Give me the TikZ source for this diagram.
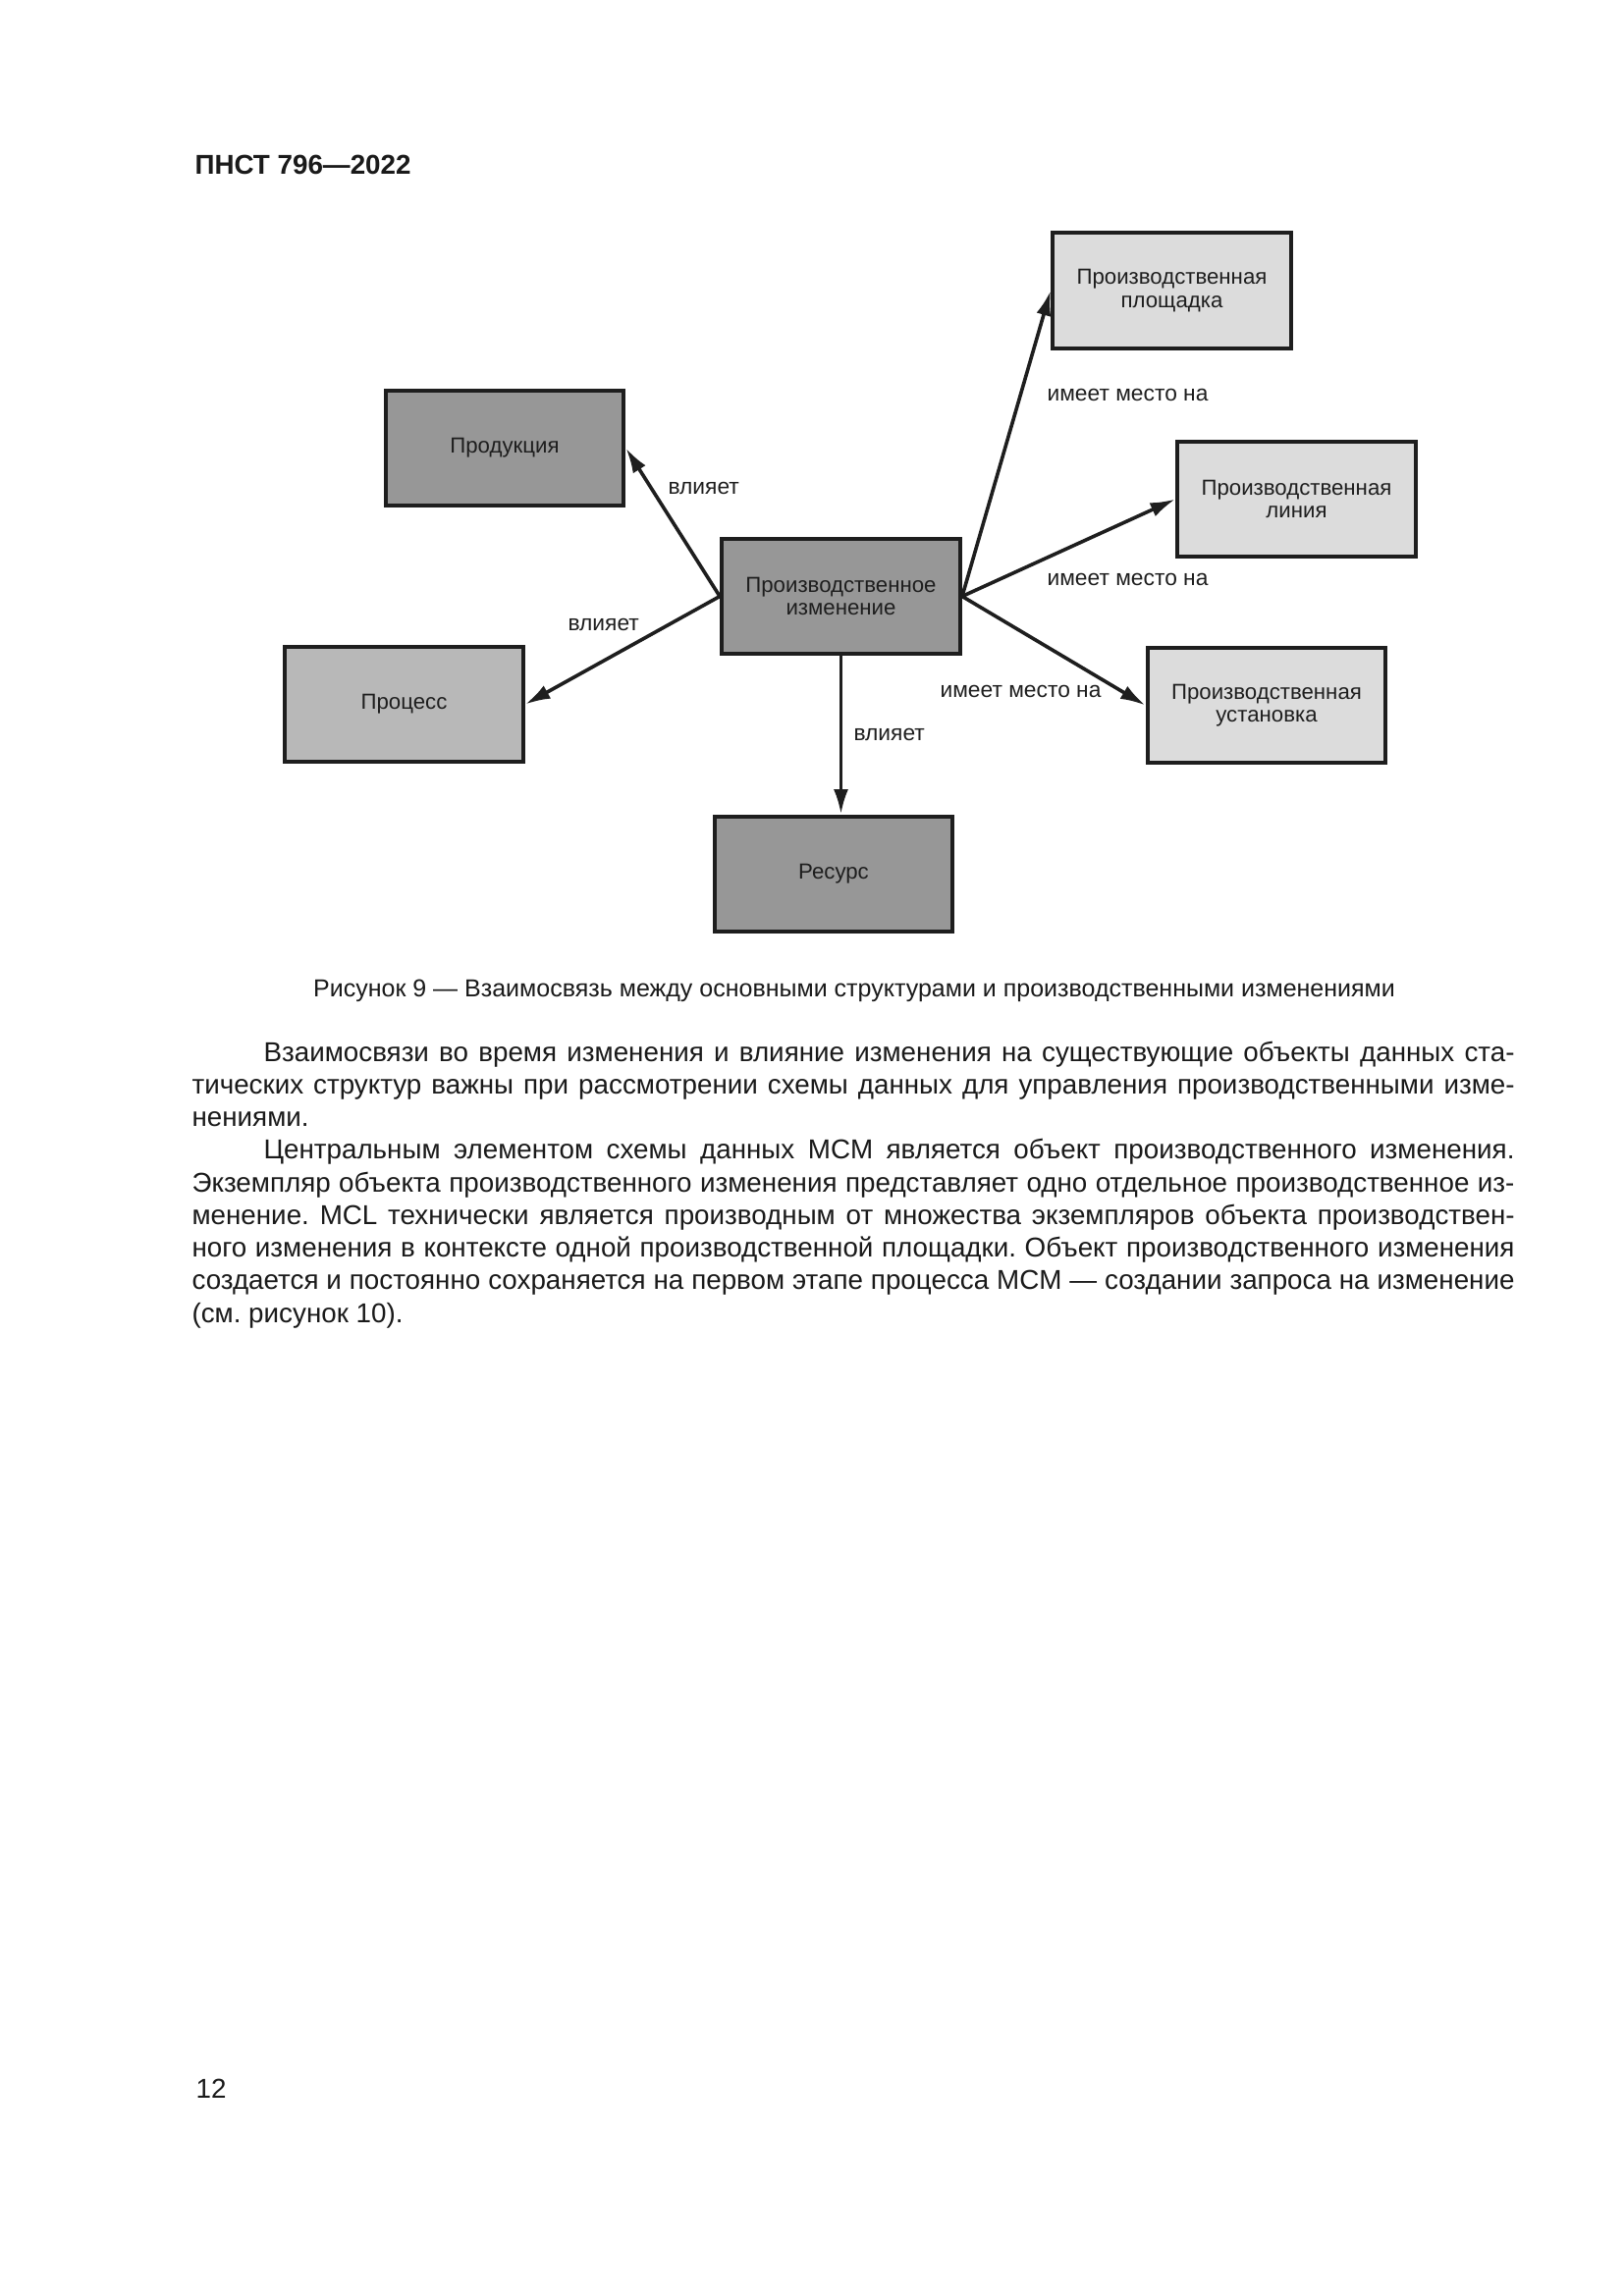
\documentclass[tikz,border=0pt]{standalone}
\usepackage{fontspec}
\setmainfont{Liberation Sans}
\usetikzlibrary{arrows.meta}
\definecolor{boxdark}{HTML}{979797}
\definecolor{boxmid}{HTML}{B8B8B8}
\definecolor{boxlight}{HTML}{DCDCDC}
\definecolor{ink}{HTML}{1E1E1E}
\definecolor{txt}{HTML}{1A1A1A}
\frenchspacing
\begin{document}
\begin{tikzpicture}[x=0.3599pt,y=-0.3599pt,
  box/.style={draw=ink, line width=1.45pt, minimum width=87.4pt, minimum height=42.4pt,
    inner sep=0pt, align=center, font=\fontsize{8}{8.4}\selectfont, text=ink},
  darkbox/.style={box, fill=boxdark},
  midbox/.style={box, fill=boxmid},
  lightbox/.style={box, fill=boxlight},
  arr/.style={draw=ink, line width=1.3pt, -{Latex[length=9.2pt,width=5.4pt]}},
  lab/.style={font=\fontsize{8.2}{9}\selectfont, inner sep=0pt, anchor=west, text=ink},
  bodyline/.style={font=\fontsize{10}{12}\selectfont, inner sep=0pt, anchor=base west, text=txt},
]
\useasboundingbox (0,0) rectangle (1654,2339);
\fill[white] (0,0) rectangle (1654,2339);

% header
\node[bodyline, font=\fontsize{10}{12}\selectfont\bfseries] (hdr) at (198,177) {ПНСТ 796—2022};

% boxes
\node[darkbox] (prod) at (514,456.5) {Продукция};
\node[midbox] (proc) at (411.5,717.5) {Процесс};
\node[darkbox] (chg) at (856.5,607.5) {Производственное\\изменение};
\node[darkbox] (res) at (849,890.5) {Ресурс};
\node[lightbox] (site) at (1193.5,296) {Производственная\\площадка};
\node[lightbox] (line) at (1320.5,508.5) {Производственная\\линия};
\node[lightbox] (unit) at (1290,718.5) {Производственная\\установка};

% connectors
\draw[arr] (chg.west) -- (prod.east);
\draw[arr] (chg.west) -- (proc.east);
\draw[arr] (chg.south) -- (chg.south |- res.north);
\draw[arr] (chg.east) -- (site.west);
\draw[arr] (chg.east) -- (line.west);
\draw[arr] (chg.east) -- (unit.west);

% labels
\node[lab] (l1) at (680,497) {влияет};
\node[lab] (l2) at (578,636) {влияет};
\node[lab] (l3) at (869,748) {влияет};
\node[lab] (l4) at (1066,402) {имеет место на};
\node[lab] (l5) at (1066,590) {имеет место на};
\node[lab] (l6) at (957,704) {имеет место на};

% caption
\node[bodyline, anchor=base, font=\fontsize{9}{11}\selectfont] (cap) at (870,1015)
  {Рисунок 9 — Взаимосвязь между основными структурами и производственными изменениями};

% body text
\node[bodyline] (b1) at (268,1081) {\makebox[458.5pt][s]{Взаимосвязи во время изменения и влияние изменения на существующие объекты данных ста-}};
\node[bodyline] (b2) at (195,1114.25) {\makebox[484.8pt][s]{тических структур важны при рассмотрении схемы данных для управления производственными изме-}};
\node[bodyline] (b3) at (195,1147.5) {нениями.};
\node[bodyline] (b4) at (268,1180.75) {\makebox[458.5pt][s]{Центральным элементом схемы данных MCM является объект производственного изменения.}};
\node[bodyline] (b5) at (195,1214) {\makebox[484.8pt][s]{Экземпляр объекта производственного изменения представляет одно отдельное производственное из-}};
\node[bodyline] (b6) at (195,1247.25) {\makebox[484.8pt][s]{менение. MCL технически является производным от множества экземпляров объекта производствен-}};
\node[bodyline] (b7) at (195,1280.5) {\makebox[484.8pt][s]{ного изменения в контексте одной производственной площадки. Объект производственного изменения}};
\node[bodyline] (b8) at (195,1313.75) {\makebox[484.8pt][s]{создается и постоянно сохраняется на первом этапе процесса MCM — создании запроса на изменение}};
\node[bodyline] (b9) at (195,1347) {(см. рисунок 10).};

% page number
\node[bodyline] (pg) at (199,2137) {12};
\end{tikzpicture}
\end{document}
